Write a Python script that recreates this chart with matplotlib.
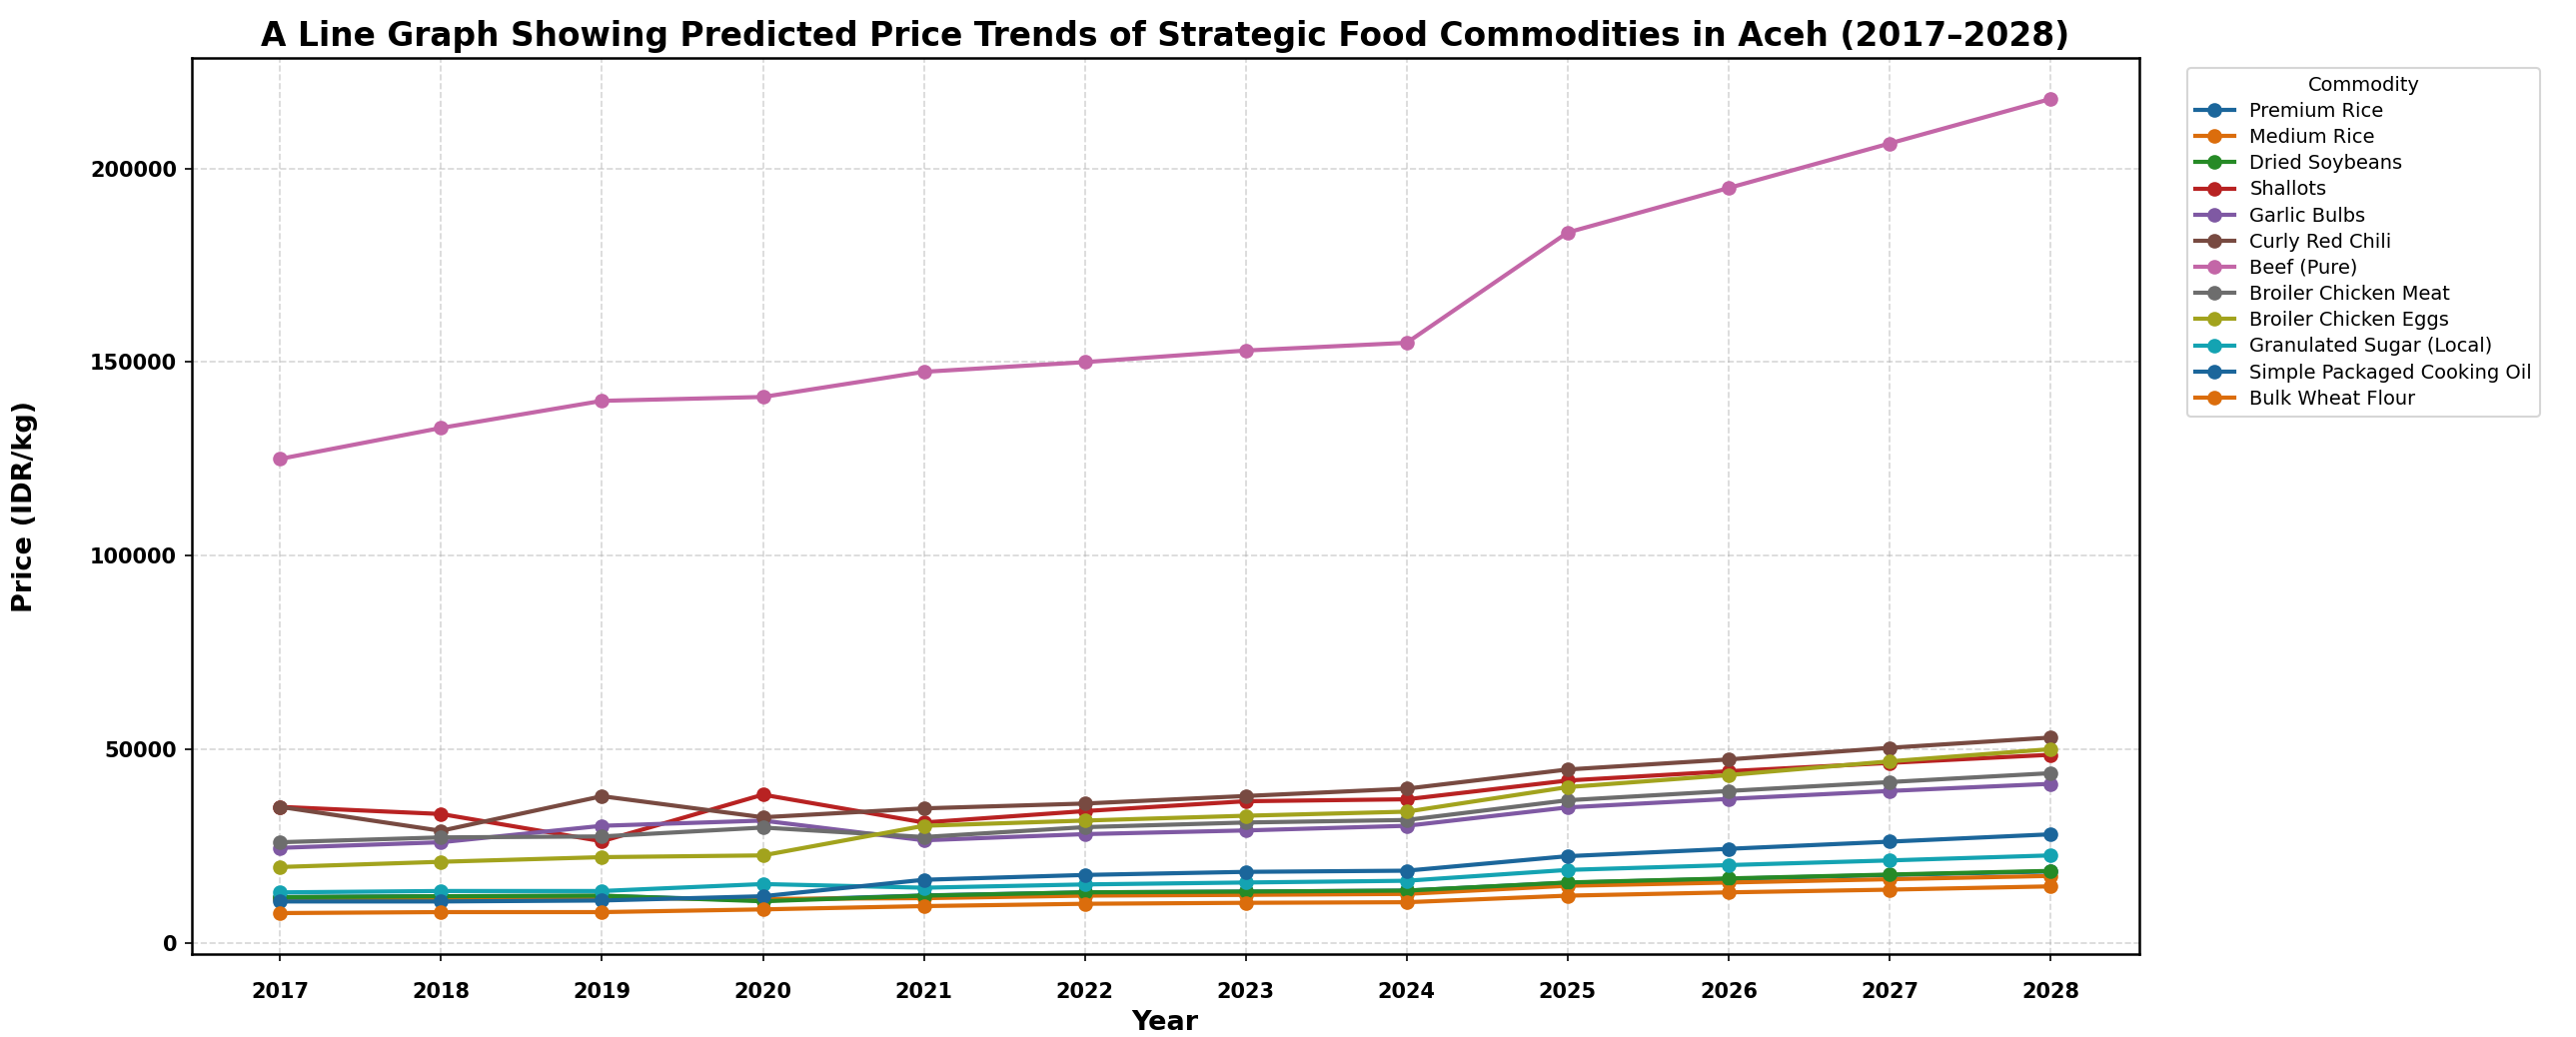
import matplotlib
matplotlib.use("Agg")
import matplotlib.pyplot as plt
import matplotlib.colors as mcolors

# 数据
years = [2017, 2018, 2019, 2020, 2021, 2022, 2023, 2024, 2025, 2026, 2027, 2028]

premium_rice = [11800, 12000, 12100, 10900, 12200, 13000, 13200, 13450, 15500, 16500, 17500, 18400]
medium_rice = [11300, 11300, 11550, 11300, 11500, 12150, 12350, 12600, 14700, 15550, 16400, 17250]
dried_soybeans = [11750, 12000, 12150, 10700, 12150, 13000, 13200, 13450, 15550, 16600, 17600, 18550]
shallots = [35100, 33250, 26200, 38250, 31050, 34000, 36550, 37050, 41900, 44300, 46450, 48550]
garlic_bulbs = [24500, 25950, 30200, 31550, 26450, 28050, 29000, 30200, 34950, 37150, 39200, 41050]
curly_red_chili = [35100, 28900, 37850, 32400, 34700, 35950, 37900, 39800, 44750, 47350, 50350, 53000]
beef = [125000, 133000, 140000, 141000, 147500, 150000, 153000, 155000, 183500, 195000, 206500, 218000]
broiler_meat = [25950, 27200, 27450, 29750, 27300, 29850, 31050, 31700, 36800, 39200, 41500, 43800]
broiler_eggs = [19550, 20900, 22100, 22550, 30200, 31550, 32800, 33850, 40200, 43300, 46850, 50000]
sugar_local = [13000, 13350, 13350, 15150, 14200, 15050, 15550, 16000, 18800, 20050, 21250, 22550]
cooking_oil = [10650, 10650, 10900, 12000, 16250, 17500, 18300, 18600, 22350, 24250, 26100, 28000]
wheat_flour = [7650, 7900, 7900, 8600, 9450, 10050, 10300, 10450, 12150, 13000, 13700, 14550]

series = [
    ("Premium Rice", premium_rice),
    ("Medium Rice", medium_rice),
    ("Dried Soybeans", dried_soybeans),
    ("Shallots", shallots),
    ("Garlic Bulbs", garlic_bulbs),
    ("Curly Red Chili", curly_red_chili),
    ("Beef (Pure)", beef),
    ("Broiler Chicken Meat", broiler_meat),
    ("Broiler Chicken Eggs", broiler_eggs),
    ("Granulated Sugar (Local)", sugar_local),
    ("Simple Packaged Cooking Oil", cooking_oil),
    ("Bulk Wheat Flour", wheat_flour),
]

# tab10 稍微压暗，接近参考图的色调
base = plt.rcParams["axes.prop_cycle"].by_key()["color"]
dark = [tuple(c * 0.86 for c in mcolors.to_rgb(h)) for h in base]

W, H, DPI = 2579, 1038, 150
fig = plt.figure(figsize=(W / DPI, H / DPI), dpi=DPI)
ax = fig.add_axes([191.7 / W, 1 - 954.7 / H, (2140.7 - 191.7) / W, (954.7 - 58.3) / H])

for i, (name, vals) in enumerate(series):
    ax.plot(years, vals, marker="o", lw=2, markersize=6, color=dark[i % 10], label=name)

ax.set_title("A Line Graph Showing Predicted Price Trends of Strategic Food Commodities in Aceh (2017\u20132028)",
             fontsize=15.8, fontweight="bold")
ax.set_xlabel("Year", fontsize=13, fontweight="bold")
ax.set_ylabel("Price (IDR/kg)", fontsize=13, fontweight="bold", labelpad=25)
ax.set_xticks(years)
ax.tick_params(labelsize=10)
ax.tick_params(axis="x", pad=10)
for lbl in ax.get_xticklabels() + ax.get_yticklabels():
    lbl.set_fontweight("bold")
ax.grid(True, linestyle="--", alpha=0.5)
for s in ax.spines.values():
    s.set_linewidth(1.2)

ax.legend(title="Commodity", loc="upper left", bbox_to_anchor=(1.02, 1),
          fontsize=9.3, title_fontsize=9.3, labelspacing=0.37)

fig.savefig("out.png", dpi=DPI, facecolor="white")
